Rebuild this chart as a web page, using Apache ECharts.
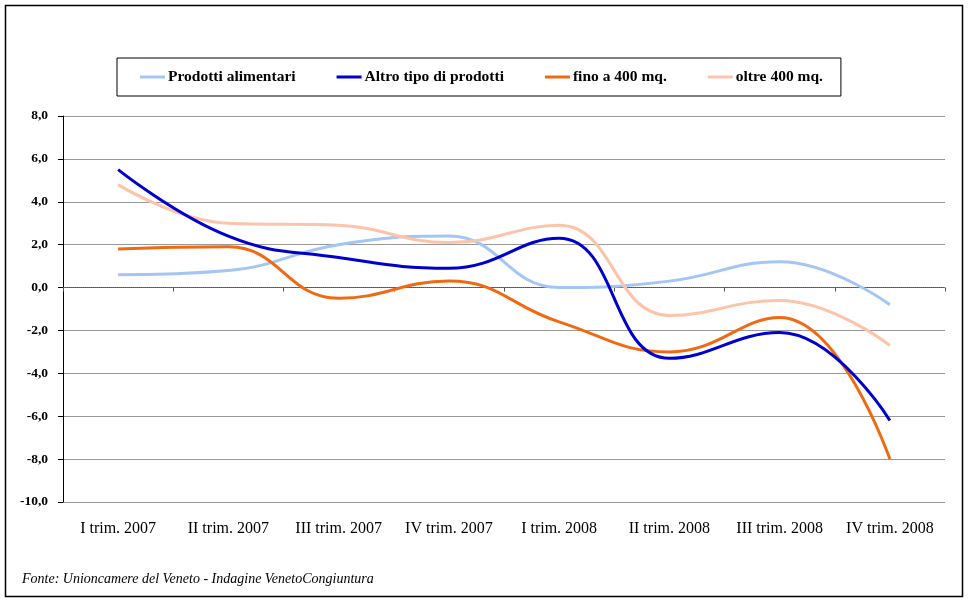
<!DOCTYPE html>
<html lang="it">
<head>
    <meta charset="UTF-8"/>
    <title>Commercio al dettaglio - Veneto</title>
    <script src="https://cdn.jsdelivr.net/npm/echarts@6/dist/echarts.min.js"></script>
    <style>
        html, body { margin: 0; padding: 0; background: #fff; }
        #main { width: 970px; height: 603px; }
    </style>
</head>
<body>
<div id="main"></div>
<script>
    // dati
    var trimestri = ['I trim. 2007', 'II trim. 2007', 'III trim. 2007', 'IV trim. 2007',
        'I trim. 2008', 'II trim. 2008', 'III trim. 2008', 'IV trim. 2008'];
    var prodottiAlimentari = [0.6, 0.8, 2.0, 2.4, 0.0, 0.3, 1.2, -0.8];
    var altroTipo = [5.5, 2.4, 1.4, 0.9, 2.3, -3.3, -2.1, -6.2];
    var fino400 = [1.8, 1.9, -0.5, 0.3, -1.6, -3.0, -1.4, -8.0];
    var oltre400 = [4.8, 3.0, 2.9, 2.1, 2.9, -1.3, -0.6, -2.7];
    var yMin = -10, yMax = 8, yStep = 2;

    var font = '"Liberation Serif", "Times New Roman", serif';
    var myChart = echarts.init(document.getElementById('main'));

    function serie(nome, dati, colore) {
        return {
            name: nome,
            type: 'line',
            data: dati,
            smooth: 0.45,
            showSymbol: false,
            symbol: 'none',
            xAxisIndex: 0,
            lineStyle: { width: 3, color: colore },
            itemStyle: { color: colore }
        };
    }

    myChart.setOption({
        animation: false,
        textStyle: { fontFamily: font },
        legend: {
            left: 117,
            top: 58,
            padding: [11, 18, 11, 23],
            itemGap: 41,
            itemWidth: 25,
            itemHeight: 3,
            icon: 'rect',
            borderColor: '#000',
            borderWidth: 1,
            textStyle: { fontFamily: font, fontSize: 15.5, fontWeight: 'bold', color: '#000', padding: [0, 0, 0, -2] },
            data: ['Prodotti alimentari', 'Altro tipo di prodotti', 'fino a 400 mq.', 'oltre 400 mq.']
        },
        grid: { left: 63, right: 25, top: 116, bottom: 101 },
        xAxis: [{
            type: 'category',
            data: trimestri,
            boundaryGap: true,
            axisLine: { onZero: true, lineStyle: { color: '#555', type: 'dotted', width: 1 } },
            axisTick: { show: true, length: 4, lineStyle: { color: '#555' } },
            axisLabel: { show: false },
            splitLine: { show: false }
        }, {
            type: 'category',
            data: trimestri,
            position: 'bottom',
            axisLine: { show: false },
            axisTick: { show: false },
            axisLabel: { interval: 0, hideOverlap: false, margin: 19, fontFamily: font, fontSize: 16, color: '#000' },
            splitLine: { show: false }
        }],
        yAxis: {
            type: 'value',
            min: yMin,
            max: yMax,
            interval: yStep,
            axisLine: { show: true, lineStyle: { color: '#000', width: 1 } },
            axisTick: { show: true, length: 5, lineStyle: { color: '#000' } },
            axisLabel: {
                margin: 15,
                fontFamily: font,
                fontSize: 13.5,
                fontWeight: 'bold',
                color: '#000',
                formatter: function (v) { return v.toFixed(1).replace('.', ','); }
            },
            splitLine: { show: true, lineStyle: { color: '#999', width: 1 } }
        },
        graphic: [{
            type: 'rect',
            shape: { x: 5.5, y: 5.5, width: 957, height: 591 },
            style: { fill: 'none', stroke: '#000', lineWidth: 1.5 },
            silent: true
        }, {
            type: 'text',
            left: 22,
            top: 572,
            style: {
                text: 'Fonte: Unioncamere del Veneto - Indagine VenetoCongiuntura',
                font: 'italic 14px ' + font,
                fill: '#000'
            }
        }],
        series: [
            serie('Prodotti alimentari', prodottiAlimentari, '#a4c6f4'),
            serie('oltre 400 mq.', oltre400, '#fcc4aa'),
            serie('fino a 400 mq.', fino400, '#f06a14'),
            serie('Altro tipo di prodotti', altroTipo, '#0000cc')
        ]
    });
</script>
</body>
</html>
